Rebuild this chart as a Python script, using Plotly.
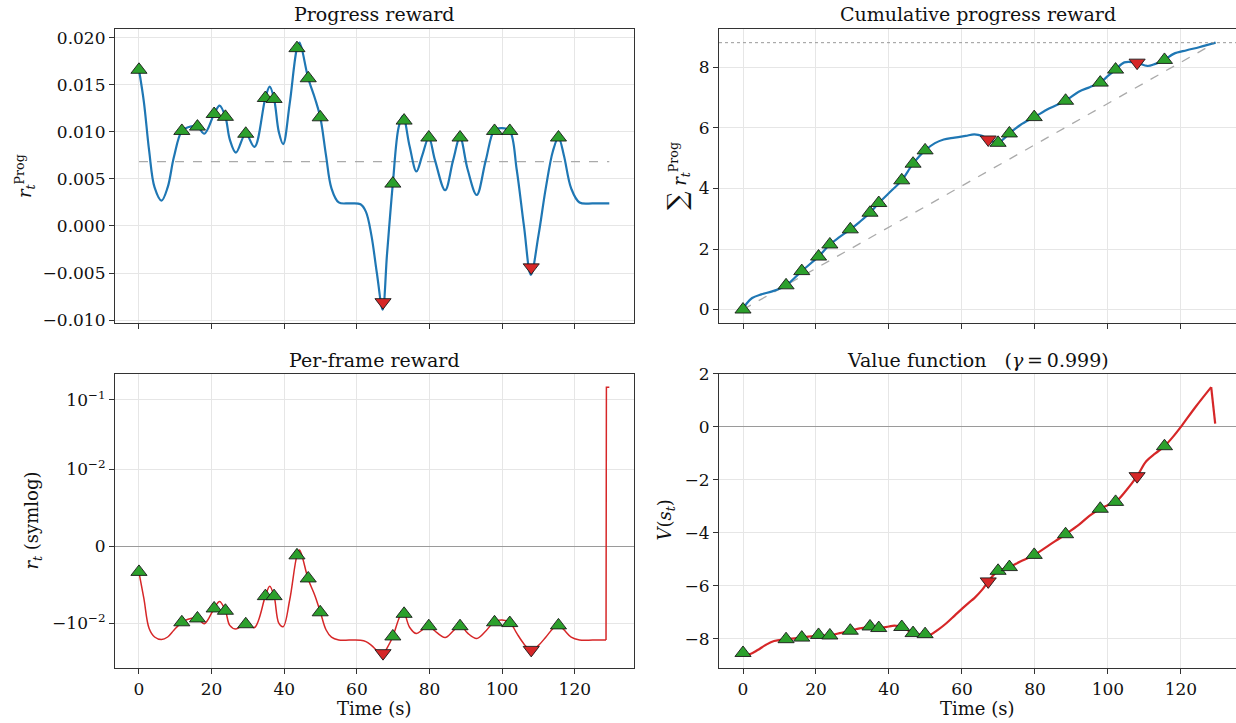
import math
import plotly.graph_objects as go

# ---------------- data ----------------
event_t = [0, 11.8, 16.1, 20.7, 23.8, 29.4, 34.8, 37.2, 43.5, 46.6, 49.9,
           67.2, 69.9, 73.0, 79.8, 88.4, 97.9, 102.1, 108.0, 115.5]
event_kind = ["up"] * 11 + ["down"] + ["up"] * 6 + ["down"] + ["up"]

prog_marks = [0.0166, 0.0101, 0.01056, 0.0119, 0.0116, 0.0098, 0.0136, 0.0135, 0.0189,
              0.0157, 0.01155, -0.0081, 0.0045, 0.0112, 0.0094, 0.0094, 0.0101, 0.0101,
              -0.0044, 0.0094]
cum_marks = [0.0, 0.8, 1.27, 1.75, 2.15, 2.65, 3.2, 3.52, 4.27, 4.82, 5.26, 5.62, 5.51,
             5.82, 6.36, 6.9, 7.5, 7.93, 8.16, 8.25]
frame_marks = [-0.00335, -0.0099, -0.0094, -0.0081, -0.0084, -0.0104, -0.0065, -0.0065,
               -0.0012, -0.0042, -0.0086, -0.0272, -0.0156, -0.0088, -0.0111, -0.0111,
               -0.0099, -0.0100, -0.0244, -0.0108]
value_marks = [-8.53, -8.01, -7.95, -7.85, -7.87, -7.69, -7.53, -7.59, -7.55, -7.78, -7.82,
               -5.83, -5.43, -5.29, -4.83, -4.05, -3.09, -2.83, -1.86, -0.73]

prog_t = [0, 1.35, 2.8, 4.3, 6.2, 7.9, 9.6, 11.8, 13.5, 16.1, 18.0, 20.7, 22.2, 23.8, 25.0,
          26.7, 29.4, 31.8, 34.8, 36.0, 37.2, 38.5, 39.7, 41.5, 43.5, 44.2, 46.6, 48.5, 49.9,
          51.5, 53.0, 55.0, 58.0, 61.0, 62.5, 64.0, 65.5, 67.1, 68.3, 69.9, 71.5, 72.7, 74.5,
          76.4, 78.0, 79.8, 81.5, 84.3, 86.5, 88.4, 90.5, 93.0, 95.5, 97.9, 100.0, 102.1,
          104.0, 106.0, 107.9, 110.0, 112.0, 114.0, 115.5, 117.0, 119.0, 121.3, 125.0, 129.5]
prog_r = [0.0166, 0.0132, 0.0080, 0.0041, 0.0027, 0.0041, 0.0073, 0.0101, 0.0105, 0.01056,
          0.0098, 0.0119, 0.0128, 0.0116, 0.0092, 0.0078, 0.0098, 0.0084, 0.0136, 0.0148,
          0.0135, 0.0100, 0.0087, 0.0130, 0.0189, 0.0195, 0.0157, 0.0135, 0.0116, 0.0075,
          0.0040, 0.0025, 0.0024, 0.0023, 0.0015, -0.0010, -0.0050, -0.0089, -0.0030, 0.0045,
          0.0105, 0.0117, 0.0085, 0.0058, 0.0075, 0.0094, 0.0070, 0.0038, 0.0070, 0.0094,
          0.0060, 0.0033, 0.0070, 0.0102, 0.0104, 0.0101, 0.0060, 0.0000, -0.0052, -0.0010,
          0.0040, 0.0080, 0.0094, 0.0075, 0.0040, 0.0025, 0.0024, 0.0024]
prog_mean = 0.00683

cum_t = [0, 1.0, 2.5, 5.0, 8.0, 11.8, 16.1, 20.7, 23.8, 26.5, 29.4, 32.0, 34.8, 37.2, 40.0,
         43.5, 46.6, 49.9, 52.6, 55.0, 58.0, 61.0, 63.4, 65.5, 67.2, 69.9, 71.5, 73.0, 76.0,
         79.8, 84.0, 88.4, 92.0, 95.0, 97.9, 100.0, 102.1, 104.5, 107.8, 110.8, 113.0, 115.5,
         118.0, 121.6, 125.0, 129.5]
cum_v = [0.0, 0.2, 0.38, 0.5, 0.6, 0.8, 1.27, 1.75, 2.15, 2.4, 2.65, 2.9, 3.2, 3.52, 3.85,
         4.27, 4.82, 5.26, 5.5, 5.62, 5.68, 5.74, 5.79, 5.74, 5.62, 5.51, 5.65, 5.82, 6.1,
         6.36, 6.65, 6.9, 7.2, 7.35, 7.5, 7.72, 7.93, 8.17, 8.16, 8.05, 8.12, 8.25, 8.45,
         8.57, 8.67, 8.82]
cum_final = 8.82

frame_t = [0, 1.35, 2.8, 4.3, 6.2, 7.9, 9.6, 11.8, 13.5, 16.1, 18.0, 20.7, 22.2, 23.8, 25.0,
           26.7, 29.4, 31.8, 34.8, 36.0, 37.2, 38.5, 39.7, 41.5, 43.5, 44.2, 46.6, 48.5, 49.9,
           51.5, 53.0, 55.0, 58.0, 61.0, 62.5, 64.0, 65.5, 67.1, 68.3, 69.9, 71.5, 72.7, 74.5,
           76.4, 78.0, 79.8, 81.5, 84.3, 86.5, 88.4, 90.5, 93.0, 95.5, 97.9, 100.0, 102.1,
           104.0, 106.0, 107.9, 110.0, 112.0, 114.0, 115.5, 117.0, 119.0, 121.3, 125.0, 128.6,
           128.7, 129.5]
frame_r = [-0.0034, -0.0068, -0.0120, -0.0159, -0.0173, -0.0159, -0.0127, -0.0099, -0.0095,
           -0.0094, -0.0102, -0.0081, -0.0072, -0.0084, -0.0108, -0.0122, -0.0102, -0.0116,
           -0.0065, -0.0052, -0.0065, -0.0100, -0.0113, -0.0070, -0.0012, -0.0005, -0.0043,
           -0.0065, -0.0085, -0.0125, -0.0160, -0.0175, -0.0176, -0.0177, -0.0185, -0.0210,
           -0.0250, -0.0289, -0.0230, -0.0156, -0.0095, -0.0083, -0.0115, -0.0142, -0.0125,
           -0.0106, -0.0130, -0.0162, -0.0130, -0.0106, -0.0140, -0.0167, -0.0130, -0.0098,
           -0.0096, -0.0099, -0.0140, -0.0200, -0.0252, -0.0210, -0.0160, -0.0120, -0.0106,
           -0.0125, -0.0160, -0.0175, -0.0176, -0.0176, 0.153, 0.153]

value_t = [0, 2.0, 4.0, 6.3, 8.5, 11.8, 16.1, 20.7, 23.8, 26.5, 29.4, 32.0, 34.8, 37.2, 40.0,
           41.5, 43.5, 46.6, 49.9, 51.5, 53.5, 55.8, 58.0, 60.2, 62.0, 63.4, 65.5, 67.2, 69.9,
           73.0, 76.0, 79.8, 84.0, 88.4, 92.0, 95.0, 97.9, 100.0, 102.1, 105.0, 108.0, 110.5,
           113.0, 115.5, 118.0, 120.0, 124.0, 128.3, 129.4]
value_v = [-8.6, -8.57, -8.42, -8.22, -8.08, -8.01, -7.95, -7.87, -7.87, -7.78, -7.69, -7.6,
           -7.55, -7.6, -7.53, -7.5, -7.55, -7.78, -7.85, -7.83, -7.65, -7.4, -7.12, -6.84,
           -6.62, -6.46, -6.15, -5.83, -5.43, -5.29, -5.08, -4.83, -4.45, -4.05, -3.7, -3.35,
           -3.09, -2.95, -2.83, -2.4, -1.86, -1.3, -1.0, -0.73, -0.35, 0.0, 0.75, 1.5, 0.12]

symlog_ticks = [0.1, 0.01, 0.0, -0.01]
symlog_labels = ["10<sup>\u22121</sup>", "10<sup>\u22122</sup>", "0", "\u221210<sup>\u22122</sup>"]
time_ticks = [0, 20, 40, 60, 80, 100, 120]

# ---------------- helpers ----------------
LINTHRESH = 0.01
LINSCALE = 1.0 / (1.0 - 1.0 / 10.0)


def symlog(v):
    a = abs(v)
    if a <= LINTHRESH:
        return v / LINTHRESH * LINSCALE
    return math.copysign(LINSCALE + math.log10(a / LINTHRESH), v)


FONT = "DejaVu Serif"
BLUE = "#1f77b4"
RED = "#d62728"
GREEN = "#2ca02c"
W, H = 1236, 723

fig = go.Figure()


def add_markers(xa, ya, vals, transform=None):
    for kind, sym, col in (("up", "triangle-up", GREEN), ("down", "triangle-down", RED)):
        xs = [t for t, k in zip(event_t, event_kind) if k == kind]
        ys = [v for v, k in zip(vals, event_kind) if k == kind]
        if transform:
            ys = [transform(v) for v in ys]
        fig.add_trace(go.Scatter(x=xs, y=ys, mode="markers", xaxis=xa, yaxis=ya,
                                 marker=dict(symbol=sym, size=14, color=col,
                                             line=dict(color="#1a1a1a", width=0.9)),
                                 showlegend=False, hoverinfo="skip"))


# Panel 1: progress reward
fig.add_trace(go.Scatter(x=[prog_t[0], prog_t[-1]], y=[prog_mean, prog_mean], mode="lines",
                         line=dict(color="#aaaaaa", width=1.3, dash="dash"),
                         xaxis="x", yaxis="y", showlegend=False))
fig.add_trace(go.Scatter(x=prog_t, y=prog_r, mode="lines", line=dict(color=BLUE, width=2.2, shape="spline"),
                         xaxis="x", yaxis="y", showlegend=False))
add_markers("x", "y", prog_marks)

# Panel 2: cumulative progress reward
fig.add_trace(go.Scatter(x=[cum_t[0], cum_t[-1]], y=[0, cum_final], mode="lines",
                         line=dict(color="#aaaaaa", width=1.3, dash="dash"),
                         xaxis="x2", yaxis="y2", showlegend=False))
fig.add_trace(go.Scatter(x=cum_t, y=cum_v, mode="lines", line=dict(color=BLUE, width=2.2, shape="spline"),
                         xaxis="x2", yaxis="y2", showlegend=False))
add_markers("x2", "y2", cum_marks)

# Panel 3: per-frame reward (symlog)
frame_y = [symlog(v) for v in frame_r]
fig.add_trace(go.Scatter(x=frame_t[:-2], y=frame_y[:-2], mode="lines",
                         line=dict(color=RED, width=1.5, shape="spline"),
                         xaxis="x3", yaxis="y3", showlegend=False))
fig.add_trace(go.Scatter(x=frame_t[-3:], y=frame_y[-3:], mode="lines",
                         line=dict(color=RED, width=1.5),
                         xaxis="x3", yaxis="y3", showlegend=False))
add_markers("x3", "y3", frame_marks, transform=symlog)

# Panel 4: value function
fig.add_trace(go.Scatter(x=value_t[:-1], y=value_v[:-1], mode="lines",
                         line=dict(color=RED, width=2.2, shape="spline"),
                         xaxis="x4", yaxis="y4", showlegend=False))
fig.add_trace(go.Scatter(x=value_t[-2:], y=value_v[-2:], mode="lines",
                         line=dict(color=RED, width=2.2),
                         xaxis="x4", yaxis="y4", showlegend=False))
add_markers("x4", "y4", value_marks)

# ---------------- layout ----------------
def px_x(p):
    return p / W


def px_y(p):
    return 1 - p / H


dom_left = [px_x(115), px_x(634)]
dom_right = [px_x(719), 1.0]
dom_top = [px_y(320.4), px_y(19.8)]
dom_bot = [px_y(674.2), px_y(372.6)]

axis_common = dict(showline=True, linecolor="#333333", linewidth=1.2, ticks="outside",
                   ticklen=5, tickwidth=1, tickcolor="#333333", showgrid=True,
                   gridcolor="#e6e6e6", gridwidth=0.9, zeroline=False,
                   tickfont=dict(family=FONT, size=17, color="#111111"))

xcommon = dict(axis_common, tickmode="array", tickvals=time_ticks)

fig.update_layout(
    width=W, height=H, autosize=False, margin=dict(l=0, r=0, t=0, b=0),
    paper_bgcolor="white", plot_bgcolor="white", showlegend=False,
    font=dict(family=FONT, color="#111111"),
    xaxis=dict(xcommon, domain=dom_left, range=[-6.6, 136.3], anchor="y", mirror=True,
               showticklabels=False),
    yaxis=dict(axis_common, domain=dom_top, range=[-0.0103, 0.0209], anchor="x", mirror=True,
               dtick=0.005, tick0=0, tickformat=".3f"),
    xaxis2=dict(xcommon, domain=dom_right, range=[-6.58, 135.1], anchor="y2", mirror=True,
                showticklabels=False),
    yaxis2=dict(axis_common, domain=dom_top, range=[-0.441, 9.261], anchor="x2", dtick=2, tick0=0),
    xaxis3=dict(xcommon, domain=dom_left, range=[-6.6, 136.3], anchor="y3", mirror=True),
    yaxis3=dict(axis_common, domain=dom_bot, range=[-1.765, 2.488], anchor="x3", mirror=True,
                tickmode="array", tickvals=[symlog(v) for v in symlog_ticks], ticktext=symlog_labels,
                zeroline=True, zerolinecolor="#9a9a9a", zerolinewidth=1.1),
    xaxis4=dict(xcommon, domain=dom_right, range=[-6.58, 135.1], anchor="y4", mirror=True),
    yaxis4=dict(axis_common, domain=dom_bot, range=[-9.11, 2.0], anchor="x4", dtick=2, tick0=0,
                zeroline=True, zerolinecolor="#9a9a9a", zerolinewidth=1.1),
)

# dotted final-sum line across the cumulative panel
fig.add_shape(type="line", xref="x2 domain", yref="y2", x0=0, x1=1, y0=cum_final, y1=cum_final,
              line=dict(color="#999999", width=1, dash="dot"))

ann = []
title_font = dict(family=FONT, size=19, color="#111111")
label_font = dict(family=FONT, size=18, color="#111111")
cx_left = px_x((115 + 634) / 2)
cx_right = px_x((719 + 1236) / 2)
for text, x, y in (("Progress reward", cx_left, px_y(4.5)),
                   ("Cumulative progress reward", cx_right, px_y(4.5)),
                   ("Per-frame reward", cx_left, px_y(358.3)),
                   ("Value function\u00a0\u00a0\u00a0(<i>\u03b3</i>\u2009=\u20090.999)", cx_right, px_y(358.3))):
    ann.append(dict(text=text, x=x, y=y, xref="paper", yref="paper", showarrow=False,
                    xanchor="center", yanchor="middle", font=title_font))
for x in (cx_left, cx_right):
    ann.append(dict(text="Time (s)", x=x, y=px_y(715.5), xref="paper", yref="paper", showarrow=False,
                    xanchor="center", yanchor="middle", font=label_font, borderpad=0))
ylabels = (("<i>r</i><sub><i>t</i></sub><sup>Prog</sup>", 25, 170.1),
           ("<span style='font-size:26px'>\u2211</span> <i>r</i><sub><i>t</i></sub><sup>Prog</sup>", 677, 170.1),
           ("<i>r</i><sub><i>t</i></sub> (symlog)", 33, 522.9),
           ("<i>V</i>(<i>s</i><sub><i>t</i></sub>)", 666, 522.9))
for text, x, y in ylabels:
    ann.append(dict(text=text, x=px_x(x), y=px_y(y), xref="paper", yref="paper", showarrow=False,
                    xanchor="center", yanchor="middle", textangle=-90, font=label_font))
fig.update_layout(annotations=ann)

fig.write_html("out.html")
